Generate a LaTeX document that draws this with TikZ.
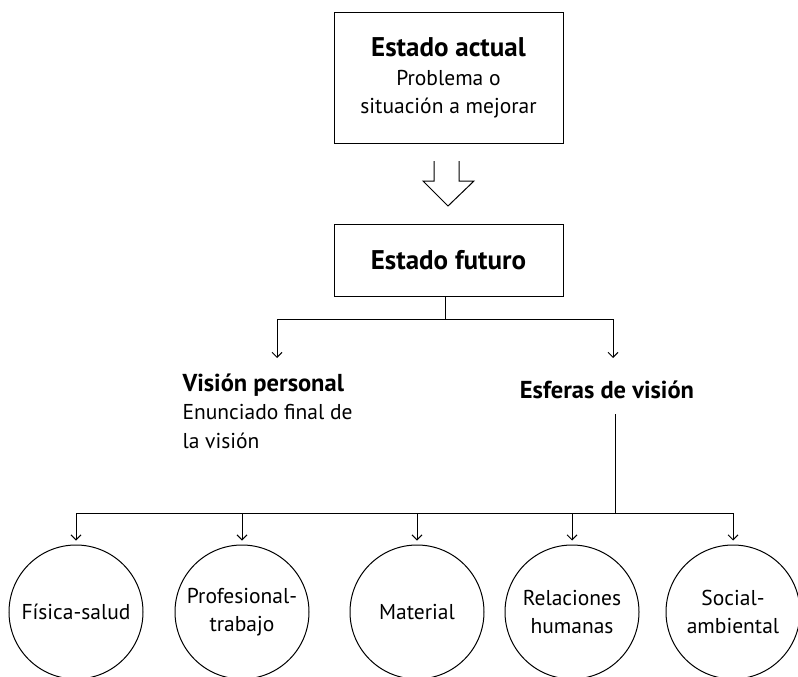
\documentclass[tikz,border=0pt]{standalone}
\usepackage{fontspec}
\setmainfont{PT Sans}
\usetikzlibrary{arrows.meta}
\newcommand{\titlefont}{\fontsize{27}{29}\selectfont\bfseries}
\newcommand{\headfont}{\fontsize{24.5}{29}\selectfont\bfseries}
\newcommand{\bodyfont}{\fontsize{21.5}{28.5}\selectfont}
\begin{document}
\begin{tikzpicture}[x=1pt,y=-1pt,
  line width=1pt,
  box/.style={draw, rectangle, minimum width=229pt, align=center, inner sep=0pt, font=\bodyfont},
  sphere/.style={draw, circle, minimum size=134pt, inner sep=0pt, align=center, font=\bodyfont},
  tip/.style={-{Straight Barb[length=5pt,width=10pt,line width=1pt]}},
  label/.style={inner sep=0pt, text=black}]
\useasboundingbox (0,0) rectangle (798,677);

% upper boxes
\node[box, minimum height=130pt] (actual) at (448.5,78)
  {{\titlefont Estado actual}\\Problema o\\situación a mejorar};
\node[box, minimum height=72pt, font=\titlefont] (futuro) at (448.5,260) {Estado futuro};

% hollow block arrow between the two boxes
\draw[line join=miter]
  (434,161) -- (434,181) -- (423,181) -- (448,206) -- (474,181) -- (459,181) -- (459,161);

% two branches below the future state
\node[label, anchor=north west, align=left, font=\bodyfont] (personal) at (182,373)
  {{\headfont Visión personal}\\Enunciado final de\\la visión};
\node[label, anchor=base, font=\headfont] (esferas) at (607,398) {Esferas de visión};

\coordinate (fork) at ([xshift=-3.5pt]futuro.south |- 0,319);
\coordinate (tipP) at (277,358);
\coordinate (tipE) at (613,358);
\draw ([xshift=-3.5pt]futuro.south) -- (fork);
\draw (tipP |- fork) -- (tipE |- fork);
\draw[tip] (tipP |- fork) -- (tipP);
\draw[tip] (tipE |- fork) -- (tipE);

% spheres of vision
\node[sphere] (s1) at (76,612)  {Física-salud};
\node[sphere] (s2) at (242,612) {Profesional-\\trabajo};
\node[sphere] (s3) at (417,612) {Material};
\node[sphere] (s4) at (572,612) {Relaciones\\humanas};
\node[sphere] (s5) at (733,612) {Social-\\ambiental};

\coordinate (stem) at (615,414);
\coordinate (bus) at (615,513);
\draw (stem) -- (bus);
\draw (s1 |- bus) -- (s5 |- bus);
\foreach \s in {s1,s2,s3,s4,s5}
  \draw[tip] (\s |- bus) -- ([yshift=4pt]\s.north);
\end{tikzpicture}
\end{document}
